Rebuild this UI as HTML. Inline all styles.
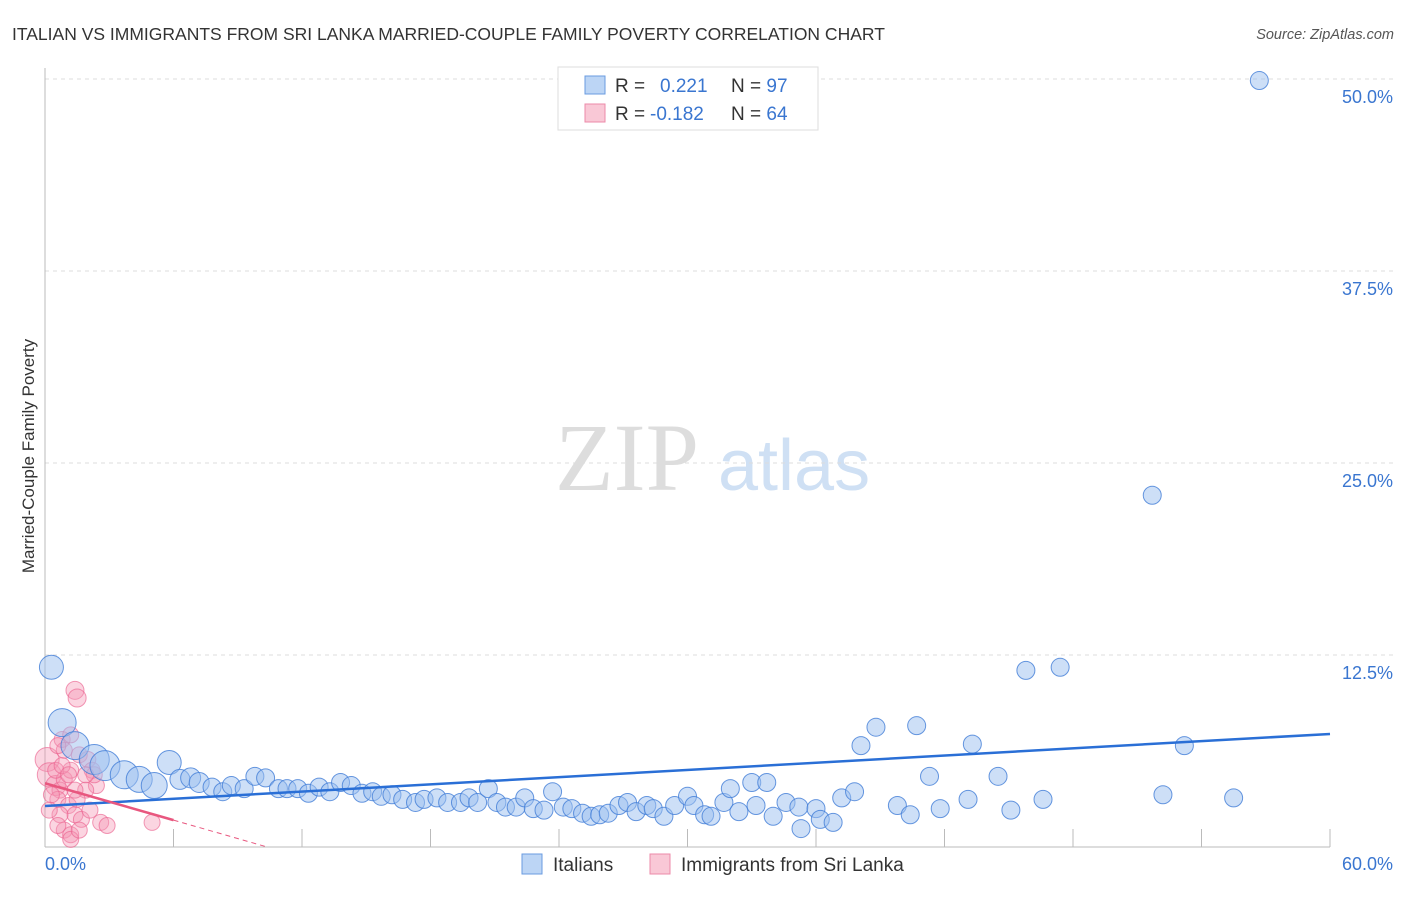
<!DOCTYPE html>
<html><head><meta charset="utf-8"><style>
body{margin:0;background:#fff;font-family:"Liberation Sans",sans-serif;}
</style></head><body>
<svg id="chart" width="1406" height="892" xmlns="http://www.w3.org/2000/svg">
<text x="12" y="40" font-size="17.5" fill="#333">ITALIAN VS IMMIGRANTS FROM SRI LANKA MARRIED-COUPLE FAMILY POVERTY CORRELATION CHART</text>
<text x="1394" y="39" font-size="14.5" fill="#555" font-style="italic" text-anchor="end">Source: ZipAtlas.com</text>
<g>
<text x="555" y="490" font-size="96" fill="#ddd" font-family="Liberation Serif,serif">ZIP</text>
<text x="718" y="490" font-size="72" fill="#cfe0f4">atlas</text>
</g>
<text transform="translate(34,456) rotate(-90)" font-size="17" fill="#333" text-anchor="middle">Married-Couple Family Poverty</text>
<g id="grid"></g><g id="pink"></g><g id="blue"></g><g id="lines"></g>
<g>
<rect x="558" y="67" width="260" height="63" fill="#fff" stroke="#ddd"/>
<rect x="585" y="76" width="20" height="18" fill="#bcd5f5" stroke="#6a9be0"/>
<text x="615" y="92" font-size="19" fill="#333">R = <tspan fill="#3a76d0" x="660">0.221</tspan><tspan fill="#333" x="731">N = </tspan><tspan fill="#3a76d0">97</tspan></text>
<rect x="585" y="104" width="20" height="18" fill="#f9c8d6" stroke="#ec8aa8"/>
<text x="615" y="120" font-size="19" fill="#333">R = <tspan fill="#3a76d0" x="650">-0.182</tspan><tspan fill="#333" x="731">N = </tspan><tspan fill="#3a76d0">64</tspan></text>
</g>
<g>
<rect x="522" y="854" width="20" height="20" fill="#bcd5f5" stroke="#6a9be0"/>
<text x="553" y="871" font-size="19" fill="#333">Italians</text>
<rect x="650" y="854" width="20" height="20" fill="#f9c8d6" stroke="#ec8aa8"/>
<text x="681" y="871" font-size="19" fill="#333">Immigrants from Sri Lanka</text>
</g>
</svg>
<script>
const yTicks=[12.5,25,37.5,50];
const yTickLabels=["12.5%","25.0%","37.5%","50.0%"];
const xTickLabels=["0.0%","60.0%"];
const blueX=[0.3,0.8,1.4,2.3,2.8,3.7,4.4,5.1,5.8,6.3,6.8,7.2,7.8,8.3,8.7,9.3,9.8,10.3,10.9,11.3,11.8,12.3,12.8,13.3,13.8,14.3,14.8,15.3,15.7,16.2,16.7,17.3,17.7,18.3,18.8,19.4,19.8,20.2,20.7,21.1,21.5,22.0,22.4,22.8,23.3,23.7,24.2,24.6,25.1,25.5,25.9,26.3,26.8,27.2,27.6,28.1,28.4,28.9,29.4,30.0,30.3,30.8,31.1,31.7,32.0,32.4,33.0,33.2,33.7,34.0,34.6,35.2,35.3,36.0,36.2,36.8,37.2,37.8,38.1,38.8,39.8,40.4,40.7,41.3,41.8,43.1,43.3,45.8,47.4,44.5,45.1,46.6,52.2,53.2,55.5,51.7,56.7];
const blueY=[11.7,8.1,6.6,5.7,5.3,4.7,4.4,4.0,5.5,4.4,4.5,4.2,3.9,3.6,4.0,3.8,4.6,4.5,3.8,3.8,3.8,3.5,3.9,3.6,4.2,4.0,3.5,3.6,3.3,3.4,3.1,2.9,3.1,3.2,2.9,2.9,3.2,2.9,3.8,2.9,2.6,2.6,3.2,2.5,2.4,3.6,2.6,2.5,2.2,2.0,2.1,2.2,2.7,2.9,2.3,2.7,2.5,2.0,2.7,3.3,2.7,2.1,2.0,2.9,3.8,2.3,4.2,2.7,4.2,2.0,2.9,2.6,1.2,2.5,1.8,1.6,3.2,3.6,6.6,7.8,2.7,2.1,7.9,4.6,2.5,3.1,6.7,11.5,11.7,4.6,2.4,3.1,3.4,6.6,3.2,22.9,49.9];
const blueSize=[12,14,14,15,15,14,13,13,12,10,10,10,9,9,9,9,9,9,9,9,9,9,9,9,9,9,9,9,9,9,9,9,9,9,9,9,9];
const pinkX=[1.4,1.5,0.1,0.2,0.5,0.7,0.9,0.6,0.3,1.2,0.8,1.2,1.6,2.0,2.4,2.2,1.9,1.1,1.4,1.7,0.7,0.9,1.2,1.2,1.5,2.1,2.6,2.9,5.0,0.5,0.8,1.1,0.2,0.6,1.6,2.3,0.9,0.6,1.9,1.4];
const pinkY=[10.2,9.7,5.7,4.7,4.0,3.7,4.4,3.1,3.4,5.0,7.0,7.3,6.0,5.7,4.0,5.0,3.7,2.7,2.1,1.8,2.1,1.1,0.8,0.5,3.1,2.4,1.6,1.4,1.6,5.0,5.3,4.7,2.4,1.4,1.1,4.7,6.3,6.6,4.7,3.7];
const pinkSize=[9,9,12,12,10];
const blueTrend=[2.67,7.36];
const pinkTrend=[4.15,-0.40];
const X=v=>45+v*(1285/60), Y=v=>847-v*(768/50);
const NS="http://www.w3.org/2000/svg";
function mk(parent,tag,attrs){const e=document.createElementNS(NS,tag);for(const k in attrs)e.setAttribute(k,attrs[k]);document.getElementById(parent).appendChild(e);return e;}
let e;
yTicks.forEach((t,i)=>{
 e=mk('grid','line',{x1:45,x2:1394,y1:Y(t),y2:Y(t),stroke:'#ddd','stroke-dasharray':'4,4'});
 
 
 e=mk('grid','text',{x:1393,y:Y(t)+24,'font-size':18,fill:'#3a76d0','text-anchor':'end'});e.textContent=yTickLabels[i];
 
 
});
e=mk('grid','line',{x1:45,x2:1330,y1:847,y2:847,stroke:'#bbb'});


e=mk('grid','line',{x1:45,x2:45,y1:68,y2:847,stroke:'#bbb'});


for(let i=1;i<=10;i++){e=mk('grid','line',{x1:X(i*6),x2:X(i*6),y1:829,y2:847,stroke:'#bbb'});
 
 }
e=mk('grid','text',{x:45,y:870,'font-size':18,fill:'#3a76d0'});e.textContent=xTickLabels[0];


e=mk('grid','text',{x:1393,y:870,'font-size':18,fill:'#3a76d0','text-anchor':'end'});e.textContent=xTickLabels[1];


pinkX.forEach((x,i)=>{e=mk('pink','circle',{cx:X(x),cy:Y(pinkY[i]),r:pinkSize[i]||8,fill:'rgba(245,150,180,0.4)',stroke:'rgba(235,100,145,0.65)'});
 
 });
blueX.forEach((x,i)=>{e=mk('blue','circle',{cx:X(x),cy:Y(blueY[i]),r:blueSize[i]||9,fill:'rgba(155,192,240,0.5)',stroke:'rgba(65,125,215,0.8)'});
 
 });
e=mk('lines','line',{x1:X(0),y1:Y(blueTrend[0]),x2:X(60),y2:Y(blueTrend[1]),stroke:'#2a6fd6','stroke-width':2.5});


e=mk('lines','line',{x1:X(0),y1:Y(pinkTrend[0]),x2:X(6),y2:Y(pinkTrend[0]+6*pinkTrend[1]),stroke:'#e8577f','stroke-width':2.5});


const xe=-pinkTrend[0]/pinkTrend[1];
e=mk('lines','line',{x1:X(6),y1:Y(pinkTrend[0]+6*pinkTrend[1]),x2:X(xe),y2:Y(0),stroke:'#e8577f','stroke-width':1,'stroke-dasharray':'5,4'});


</script>
</body></html>
